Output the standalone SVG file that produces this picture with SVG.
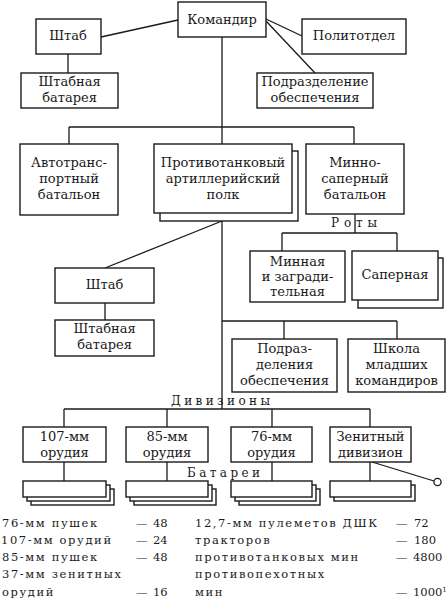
<svg xmlns="http://www.w3.org/2000/svg" width="447" height="606" viewBox="0 0 447 606">
<style>
  .box { fill: #fff; stroke: #1a1a1a; stroke-width: 1.4; }
  .ln { stroke: #1a1a1a; stroke-width: 1.3; fill: none; }
  .t { font-family: "DejaVu Serif", "Liberation Serif", serif; font-size: 13px; fill: #1a1a1a; text-anchor: middle; }
  .sp { font-family: "DejaVu Serif", "Liberation Serif", serif; font-size: 12px; fill: #1a1a1a; }
  .b { font-family: "DejaVu Serif", "Liberation Serif", serif; font-size: 11.5px; fill: #1a1a1a; letter-spacing: 1.6px; }
  .n { font-family: "DejaVu Serif", "Liberation Serif", serif; font-size: 11.5px; fill: #1a1a1a; }
</style>
<rect width="447" height="606" fill="#fff"/>

<g id="connectors" class="ln">
  <line x1="101" y1="37" x2="178" y2="20"/>
  <line x1="68" y1="54" x2="68" y2="73"/>
  <line x1="266" y1="19" x2="302" y2="36"/>
  <line x1="266" y1="21" x2="315" y2="73"/>
  <line x1="222" y1="37" x2="222" y2="144"/>
  <line x1="69" y1="127" x2="354" y2="127"/>
  <line x1="69" y1="127" x2="69" y2="144"/>
  <line x1="354" y1="127" x2="354" y2="144"/>
  <line x1="222" y1="221" x2="105" y2="268"/>
  <line x1="222" y1="221" x2="222" y2="409"/>
  <line x1="355" y1="214" x2="355" y2="233"/>
  <line x1="282" y1="233" x2="397" y2="233"/>
  <line x1="282" y1="233" x2="282" y2="251"/>
  <line x1="397" y1="233" x2="397" y2="251"/>
  <line x1="105" y1="303" x2="105" y2="320"/>
  <line x1="222" y1="321" x2="397" y2="321"/>
  <line x1="284" y1="321" x2="284" y2="339"/>
  <line x1="397" y1="321" x2="397" y2="339"/>
  <line x1="64" y1="409" x2="370" y2="409"/>
  <line x1="64" y1="409" x2="64" y2="427"/>
  <line x1="167" y1="409" x2="167" y2="427"/>
  <line x1="272" y1="409" x2="272" y2="427"/>
  <line x1="370" y1="409" x2="370" y2="427"/>
  <line x1="64" y1="462" x2="64" y2="481"/>
  <line x1="167" y1="462" x2="167" y2="481"/>
  <line x1="272" y1="462" x2="272" y2="481"/>
  <line x1="370" y1="462" x2="370" y2="481"/>
  <line x1="372" y1="462" x2="434" y2="481"/>
  <circle cx="437.5" cy="482" r="3.6" fill="#fff"/>
</g>

<g id="n-komandir">
  <rect class="box" x="178" y="2" width="88" height="35"/>
  <text class="t" x="222" y="24">Командир</text>
</g>
<g id="n-shtab">
  <rect class="box" x="36" y="19" width="65" height="35"/>
  <text class="t" x="68" y="40">Штаб</text>
</g>
<g id="n-politotdel">
  <rect class="box" x="302" y="19" width="104" height="35"/>
  <text class="t" x="354" y="40">Политотдел</text>
</g>
<g id="n-shtab-bat">
  <rect class="box" x="21" y="73" width="97" height="35"/>
  <text class="t" x="69.5" y="86">Штабная</text>
  <text class="t" x="69.5" y="102">батарея</text>
</g>
<g id="n-podr-obesp">
  <rect class="box" x="257" y="73" width="116" height="35"/>
  <text class="t" x="315" y="86">Подразделение</text>
  <text class="t" x="315" y="102">обеспечения</text>
</g>

<g id="n-avto">
  <rect class="box" x="20" y="144" width="98" height="71"/>
  <text class="t" x="69" y="167">Автотранс-</text>
  <text class="t" x="69" y="183">портный</text>
  <text class="t" x="69" y="199">батальон</text>
</g>
<g id="n-ptap">
  <rect class="box" x="160" y="151" width="138" height="70"/>
  <rect class="box" x="154" y="144" width="138" height="69"/>
  <text class="t" x="223" y="167">Противотанковый</text>
  <text class="t" x="223" y="183">артиллерийский</text>
  <text class="t" x="223" y="199">полк</text>
</g>
<g id="n-minno">
  <rect class="box" x="306" y="144" width="98" height="70"/>
  <text class="t" x="355" y="167">Минно-</text>
  <text class="t" x="355" y="183">саперный</text>
  <text class="t" x="355" y="199">батальон</text>
</g>

<g id="lbl-roty">
  <text class="sp" x="331" y="227" textLength="46" lengthAdjust="spacing">Роты</text>
</g>

<g id="n-minnaya">
  <rect class="box" x="250" y="251" width="95" height="51"/>
  <text class="t" x="297.5" y="266">Минная</text>
  <text class="t" x="297.5" y="281">и загради-</text>
  <text class="t" x="297.5" y="296">тельная</text>
</g>
<g id="n-sapernaya">
  <rect class="box" x="358" y="258" width="85" height="50"/>
  <rect class="box" x="352" y="251" width="86" height="49"/>
  <text class="t" x="395" y="279">Саперная</text>
</g>

<g id="n-shtab2">
  <rect class="box" x="55" y="268" width="99" height="35"/>
  <text class="t" x="104.5" y="289">Штаб</text>
</g>
<g id="n-shtab-bat2">
  <rect class="box" x="55" y="320" width="99" height="36"/>
  <text class="t" x="104.5" y="333">Штабная</text>
  <text class="t" x="104.5" y="349">батарея</text>
</g>

<g id="n-podr2">
  <rect class="box" x="232" y="339" width="105" height="53"/>
  <text class="t" x="284.5" y="353">Подраз-</text>
  <text class="t" x="284.5" y="369">деления</text>
  <text class="t" x="284.5" y="385">обеспечения</text>
</g>
<g id="n-shkola">
  <rect class="box" x="348" y="339" width="97" height="53"/>
  <text class="t" x="396.5" y="353">Школа</text>
  <text class="t" x="396.5" y="369">младших</text>
  <text class="t" x="396.5" y="385">командиров</text>
</g>

<g id="lbl-diviziony">
  <text class="sp" x="171" y="405" textLength="99" lengthAdjust="spacing">Дивизионы</text>
</g>

<g id="n-107">
  <rect class="box" x="23" y="427" width="83" height="35"/>
  <text class="t" x="64.5" y="441">107-мм</text>
  <text class="t" x="64.5" y="457">орудия</text>
</g>
<g id="n-85">
  <rect class="box" x="126" y="427" width="82" height="35"/>
  <text class="t" x="167" y="441">85-мм</text>
  <text class="t" x="167" y="457">орудия</text>
</g>
<g id="n-76">
  <rect class="box" x="231" y="427" width="81" height="35"/>
  <text class="t" x="271.5" y="441">76-мм</text>
  <text class="t" x="271.5" y="457">орудия</text>
</g>
<g id="n-zenit">
  <rect class="box" x="330" y="427" width="81" height="35"/>
  <text class="t" x="370.5" y="441">Зенитный</text>
  <text class="t" x="370.5" y="457">дивизион</text>
</g>

<g id="lbl-batarei">
  <text class="sp" x="187" y="477" textLength="73" lengthAdjust="spacing">Батареи</text>
</g>

<g id="n-bat-107">
  <rect class="box" x="31" y="489" width="83" height="16"/>
  <rect class="box" x="27" y="485" width="83" height="16"/>
  <rect class="box" x="23" y="481" width="83" height="16"/>
</g>
<g id="n-bat-85">
  <rect class="box" x="134" y="489" width="82" height="16"/>
  <rect class="box" x="130" y="485" width="82" height="16"/>
  <rect class="box" x="126" y="481" width="82" height="16"/>
</g>
<g id="n-bat-76">
  <rect class="box" x="239" y="489" width="81" height="16"/>
  <rect class="box" x="235" y="485" width="81" height="16"/>
  <rect class="box" x="231" y="481" width="81" height="16"/>
</g>
<g id="n-bat-zenit">
  <rect class="box" x="334" y="485" width="81" height="16"/>
  <rect class="box" x="330" y="481" width="81" height="16"/>
</g>

<g id="legend">
  <text class="b" x="2" y="527">76-мм пушек</text>
  <text class="n" x="136" y="527">—</text><text class="n" x="153" y="527">48</text>
  <text class="b" x="1" y="544">107-мм орудий</text>
  <text class="n" x="136" y="544">—</text><text class="n" x="153" y="544">24</text>
  <text class="b" x="2" y="561">85-мм пушек</text>
  <text class="n" x="136" y="561">—</text><text class="n" x="153" y="561">48</text>
  <text class="b" x="2" y="578">37-мм зенитных</text>
  <text class="b" x="2" y="596">орудий</text>
  <text class="n" x="136" y="596">—</text><text class="n" x="153" y="596">16</text>

  <text class="b" x="195" y="527">12,7-мм пулеметов ДШК</text>
  <text class="n" x="396" y="527">—</text><text class="n" x="414" y="527">72</text>
  <text class="b" x="195" y="544">тракторов</text>
  <text class="n" x="396" y="544">—</text><text class="n" x="414" y="544">180</text>
  <text class="b" x="195" y="561">противотанковых мин</text>
  <text class="n" x="396" y="561">—</text><text class="n" x="413" y="561">4800</text>
  <text class="b" x="195" y="578">противопехотных</text>
  <text class="b" x="195" y="596">мин</text>
  <text class="n" x="396" y="596">—</text><text class="n" x="413" y="596">1000<tspan font-size="7" dy="-4">1</tspan></text>
</g>
</svg>
